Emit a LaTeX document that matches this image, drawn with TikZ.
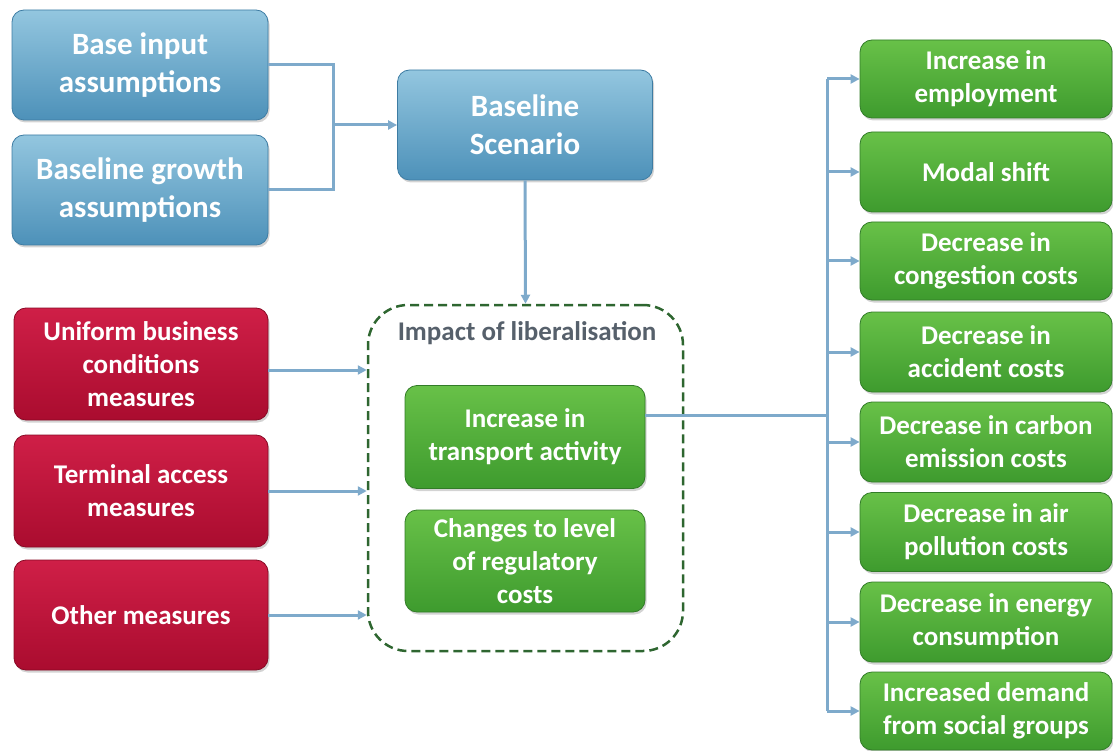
\documentclass[tikz,border=0pt]{standalone}
\usepackage{fontspec}
\setmainfont{Carlito}
\usetikzlibrary{arrows.meta,shadows}

\definecolor{bluetop}{HTML}{93C6DF}
\definecolor{bluebot}{HTML}{4D91B9}
\definecolor{blueedge}{HTML}{3D7CA3}
\definecolor{redtop}{HTML}{CF1F47}
\definecolor{redbot}{HTML}{AA0C2F}
\definecolor{rededge}{HTML}{880A25}
\definecolor{greentop}{HTML}{68C148}
\definecolor{greenbot}{HTML}{3E9B2E}
\definecolor{greenedge}{HTML}{327C28}
\definecolor{linkblue}{HTML}{7EAACB}
\definecolor{dashgreen}{HTML}{2E6630}
\definecolor{titlegrey}{HTML}{56606B}

\begin{document}
\begin{tikzpicture}[x=1pt,y=-1pt,
  box/.style={rounded corners=12pt, align=center, text=white, inner sep=0pt,
    line width=0.8pt, drop shadow={opacity=0.35,shadow xshift=1.5pt,shadow yshift=-2.5pt},
    font=\bfseries\fontsize{27}{33}\selectfont},
  inputbox/.style={box, top color=bluetop, bottom color=bluebot, draw=blueedge,
    font=\bfseries\fontsize{31}{38}\selectfont},
  measurebox/.style={box, top color=redtop, bottom color=redbot, draw=rededge},
  effectbox/.style={box, top color=greentop, bottom color=greenbot, draw=greenedge},
  dashbox/.style={draw=dashgreen, line width=2.5pt, dash pattern=on 9pt off 5pt, rounded corners=40pt},
  link/.style={draw=linkblue, line width=3pt},
  arrow/.style={link, -{Triangle[length=9pt,width=9pt]}}]
\useasboundingbox (0,0) rectangle (1113,751);
% inputs
\node[inputbox, minimum width=256, minimum height=110] (base) at (140,65) {Base input\\assumptions}; % base input
\node[inputbox, minimum width=256, minimum height=110] (growth) at (140,190) {Baseline growth\\assumptions}; % growth
\node[inputbox, minimum width=255, minimum height=110] (scenario) at (525,125) {Baseline\\Scenario}; % scenario
% measures
\node[measurebox, minimum width=254, minimum height=112] (uniform) at (141,364) {Uniform business\\conditions\\measures}; % measure.0
\node[measurebox, minimum width=254, minimum height=112] (terminal) at (141,491) {Terminal access\\measures}; % measure.1
\node[measurebox, minimum width=254, minimum height=110] (other) at (141,615) {Other measures}; % measure.2
% impact of liberalisation
\node[dashbox, minimum width=315, minimum height=346] (impact) at (525.5,478) {}; % impact
\node[text=titlegrey, font=\bfseries\fontsize{27}{30}\selectfont] (impacttitle) at (527,333) {Impact of liberalisation};
\node[effectbox, minimum width=240, minimum height=103] (transport) at (525,437) {Increase in\\transport activity}; % transport
\node[effectbox, minimum width=240, minimum height=102] (regcost) at (525,561) {Changes to level\\of regulatory\\costs}; % regulatory
% effects
\node[effectbox, minimum width=252, minimum height=78] (employ) at (986,79) {Increase in\\employment}; % effect.0
\node[effectbox, minimum width=252, minimum height=80] (modal) at (986,172) {Modal shift}; % effect.1
\node[effectbox, minimum width=252, minimum height=78] (congest) at (986,261) {Decrease in\\congestion costs}; % effect.2
\node[effectbox, minimum width=252, minimum height=80] (accident) at (986,352) {Decrease in\\accident costs}; % effect.3
\node[effectbox, minimum width=252, minimum height=80] (carbon) at (986,442) {Decrease in carbon\\emission costs}; % effect.4
\node[effectbox, minimum width=252, minimum height=79] (air) at (986,532) {Decrease in air\\pollution costs}; % effect.5
\node[effectbox, minimum width=252, minimum height=80] (energy) at (986,622) {Decrease in energy\\consumption}; % effect.6
\node[effectbox, minimum width=252, minimum height=78] (social) at (986,711) {Increased demand\\from social groups}; % effect.7
% connectors
\coordinate (join) at (333,125);
\coordinate (bus) at (827,415);
\draw[link] (base.east) -| (join) |- (growth.east);
\draw[arrow] (join) -- (scenario.west);
\draw[arrow] (scenario.south) -- (impact.north);
\draw[arrow] ([yshift=-6pt]uniform.east) -- ([yshift=-6pt]uniform.east -| impact.west);
\draw[arrow] (terminal.east) -- (terminal.east -| impact.west);
\draw[arrow] (other.east) -- (other.east -| impact.west);
\draw[link] ([yshift=22pt]transport.east) -- (bus);
\draw[link] (bus |- employ.west) -- (bus |- social.west);
\foreach \n in {employ,modal,congest,accident,carbon,air,energy,social}
  \draw[arrow] (bus |- \n.west) -- (\n.west);
\end{tikzpicture}
\end{document}
